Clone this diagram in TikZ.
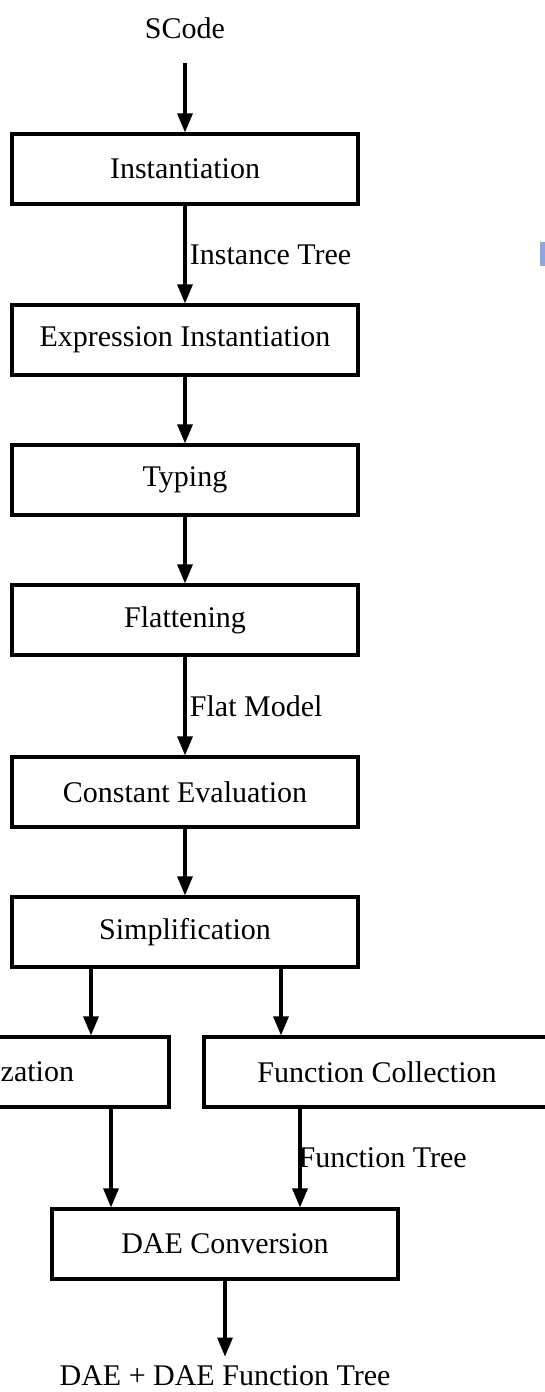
\documentclass[tikz,border=0pt]{standalone}
\usepackage{fontspec}
\setmainfont{Liberation Serif}
\usetikzlibrary{arrows.meta}
\definecolor{markblue}{RGB}{143,166,220}
\begin{document}
\begin{tikzpicture}[x=1pt,y=-1pt,
  every node/.style={font=\fontsize{30}{36}\selectfont},
  stage/.style={draw, line width=3.2pt, minimum width=346pt, minimum height=70pt, inner sep=0pt},
  flow/.style={line width=3.2pt, -{Triangle[length=19pt,width=15pt]}}]
  \useasboundingbox (0,0) rectangle (545,1392);
  \fill [markblue] (540,242) rectangle (545,266);

  % main chain
  \node [anchor=base] (scode) at (185,38) {SCode};
  \foreach \n/\t/\y in {inst/Instantiation/169, exprinst/Expression Instantiation/340,
    typing/Typing/480, flat/Flattening/620, consteval/Constant Evaluation/792,
    simpl/Simplification/932}
  \node [stage] (\n) at (185,\y) {\t};

  % split
  \node [stage, text width=156pt, align=right] (optim) at (-4,1072) {zation};
  \node [stage] (funccoll) at (377,1072) {Function Collection};
  \node [stage] (dae) at (225,1244) {DAE Conversion};
  \node [anchor=base] (out) at (225,1385) {DAE + DAE Function Tree};

  \draw [flow, shorten <=21pt] (scode) -- (inst);
  \draw [flow] (inst) -- node [right] {Instance Tree} (exprinst);
  \foreach \a/\b in {exprinst/typing, typing/flat, consteval/simpl}
  \draw [flow] (\a) -- (\b);
  \draw [flow] (flat) -- node [right] {Flat Model} (consteval);

  \draw [flow] (simpl.south -| 91,0) -- (optim.north -| 91,0);
  \draw [flow] (simpl.south -| 281,0) -- (funccoll.north -| 281,0);
  \draw [flow] (optim.south -| 111,0) -- (dae.north -| 111,0);
  \draw [flow] (funccoll.south -| 300,0) -- node [right, inner sep=0pt, xshift=-3pt] {Function Tree} (dae.north -| 300,0);
  \draw [flow, shorten >=5pt] (dae) -- (out);
\end{tikzpicture}
\end{document}
